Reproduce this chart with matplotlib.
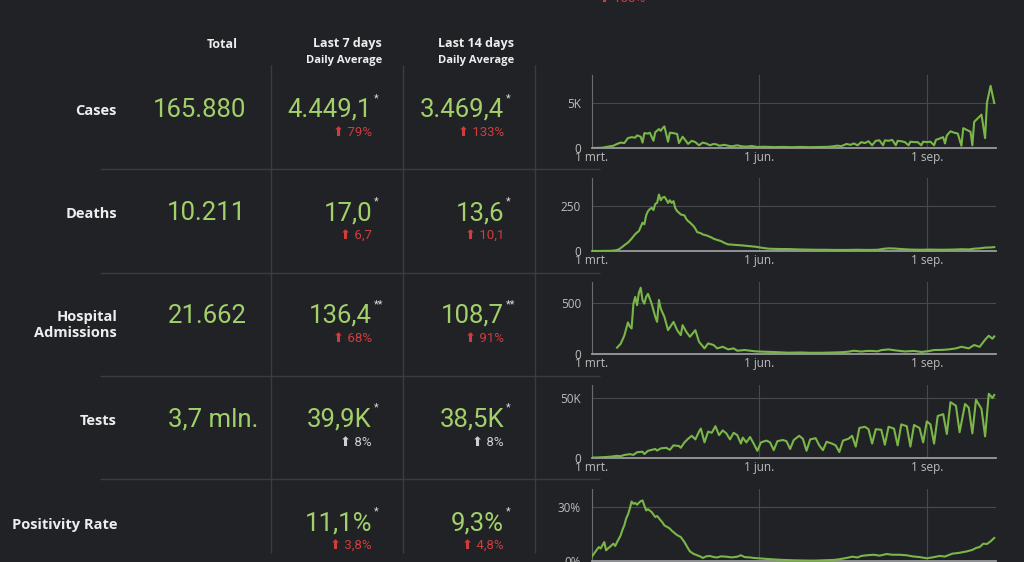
import numpy as np
import matplotlib
matplotlib.use("Agg")
from matplotlib import pyplot as plt

matplotlib.rcParams.update({'font.family': ['Roboto', 'DejaVu Sans']})

BG = '#212226'
GREEN = '#a2d06a'
LINE = '#7ab648'
RED = '#cf3d3d'
GREY = '#d0d0d0'
RULE = '#3b3c40'

# ---- table data
row_labels = ["Cases", "Deaths", "Hospital\nAdmissions", "Tests", "Positivity Rate"]
totals = ["165.880", "10.211", "21.662", "3,7 mln.", ""]
avg7 = ["4.449,1", "17,0", "136,4", "39,9K", "11,1%"]
avg14 = ["3.469,4", "13,6", "108,7", "38,5K", "9,3%"]
stars = ["*", "*", "**", "*", "*"]
chg7 = ["79%", "6,7", "68%", "8%", "3,8%"]
chg14 = ["133%", "10,1", "91%", "8%", "4,8%"]
chg_bad = [True, True, True, False, True]

# ---- sparkline data (days since 1 March)
cases_days = [0, 3, 6, 9, 12, 14, 16, 18, 20, 22, 24, 25, 27, 28, 29, 31, 32, 34, 35, 37, 38, 39, 40, 42, 43, 45, 47, 48,
              50, 51, 53, 55, 57, 59, 61, 63, 65, 67, 69, 70, 73, 75, 77, 80, 82, 85, 88, 91, 95, 100, 105, 110, 115, 120,
              125, 130, 133, 135, 137, 140, 142, 144, 146, 148, 150, 152, 154, 156, 158, 160, 161, 163, 165, 167, 168,
              170, 172, 174, 175, 177, 179, 181, 182, 184, 186, 188, 189, 191, 193, 194, 195, 197, 199, 201, 203, 204,
              206, 208, 209, 210, 212, 214, 216, 217, 219, 221]
cases_vals = [0, 10, 30, 150, 250, 450, 600, 550, 1100, 1200, 1150, 1400, 1250, 600, 1650, 1600, 1700, 800, 1750, 2100,
              1900, 2200, 2400, 700, 1700, 1650, 1550, 550, 1250, 1000, 450, 800, 650, 300, 600, 500, 300, 450, 380, 250,
              350, 250, 180, 300, 200, 150, 220, 110, 140, 100, 120, 90, 120, 90, 110, 130, 200, 260, 200, 450, 350, 500,
              300, 650, 550, 750, 300, 800, 850, 300, 850, 800, 900, 300, 800, 750, 650, 300, 700, 650, 650, 300, 700,
              650, 700, 300, 900, 1050, 1200, 500, 1400, 1850, 1700, 1600, 250, 2200, 2000, 1800, 300, 2900, 3300, 3700,
              1100, 5000, 6900, 5000]

deaths_days = [0, 5, 10, 13, 15, 17, 19, 20, 22, 24, 26, 28, 29, 30, 31, 32, 33, 34, 35, 36, 37, 38, 39, 40, 41, 42, 43,
               44, 45, 46, 47, 48, 49, 51, 52, 53, 54, 56, 57, 58, 60, 61, 63, 64, 66, 67, 69, 71, 73, 75, 77, 79, 82,
               84, 86, 88, 90, 93, 95, 97, 100, 104, 108, 113, 118, 123, 128, 134, 140, 146, 152, 157, 160, 163, 166,
               170, 175, 181, 186, 192, 198, 203, 207, 210, 213, 216, 219, 221]
deaths_vals = [0, 0, 1, 3, 9, 24, 40, 47, 69, 95, 112, 159, 150, 200, 224, 235, 243, 230, 265, 270, 317, 285, 300, 304,
               290, 270, 285, 270, 280, 240, 224, 215, 205, 200, 180, 168, 160, 140, 125, 106, 100, 93, 88, 84, 75, 69,
               62, 56, 45, 37, 36, 34, 32, 30, 28, 26, 24, 19, 16, 13, 12, 11, 11, 9, 8, 7, 7, 6, 6, 7, 6, 7, 12, 15,
               14, 11, 8, 7, 8, 7, 8, 10, 9, 13, 15, 19, 20, 22]

hosp_days = [14, 16, 18, 20, 21, 22, 23, 24, 25, 26, 27, 28, 29, 30, 31, 33, 35, 36, 37, 38, 40, 42, 45, 47, 49, 50, 52,
             54, 57, 59, 62, 64, 67, 69, 72, 75, 78, 80, 84, 90, 95, 99, 104, 108, 115, 120, 126, 133, 138, 141, 144,
             148, 151, 154, 157, 159, 163, 167, 172, 177, 181, 185, 188, 192, 196, 200, 203, 207, 210, 213, 216, 218,
             220, 221]
hosp_vals = [62, 100, 180, 310, 270, 250, 494, 560, 478, 600, 650, 526, 494, 560, 590, 494, 364, 315, 530, 445, 364, 234,
             315, 234, 185, 283, 218, 169, 234, 120, 55, 104, 88, 55, 71, 45, 55, 32, 39, 26, 22, 20, 16, 13, 15, 12,
             12, 15, 18, 23, 32, 24, 30, 30, 26, 38, 45, 35, 25, 30, 20, 28, 39, 40, 45, 55, 71, 55, 88, 70, 140, 179,
             150, 172]

tests_days = [0, 4, 8, 11, 14, 16, 18, 21, 23, 25, 28, 29, 31, 35, 36, 38, 41, 43, 45, 48, 49, 51, 53, 55, 57, 59, 60, 62,
              64, 66, 68, 70, 72, 74, 76, 78, 80, 82, 83, 85, 87, 89, 91, 93, 96, 98, 100, 102, 105, 107, 109, 111, 114,
              116, 118, 120, 123, 125, 127, 129, 132, 134, 136, 138, 141, 143, 145, 147, 150, 152, 154, 156, 159, 161,
              163, 166, 168, 170, 173, 175, 177, 180, 182, 184, 186, 188, 190, 193, 195, 197, 200, 202, 205, 207, 209,
              211, 214, 216, 218, 220, 221]
tests_vals = [300, 500, 800, 1200, 1800, 1500, 2500, 3200, 2600, 4800, 5200, 3300, 6000, 7500, 6200, 8000, 8500, 6800,
              10500, 10000, 8500, 13000, 16000, 18500, 15500, 22000, 24500, 13000, 22000, 21000, 26500, 19000, 23000,
              20500, 15500, 21000, 19000, 12000, 17000, 13000, 17500, 12000, 6000, 13000, 14500, 13000, 6500, 14000,
              15000, 14000, 7500, 15000, 18500, 16000, 6000, 15500, 16500, 10500, 6500, 13500, 12000, 10500, 5000,
              14500, 16000, 18500, 9500, 25000, 26000, 24000, 12000, 24000, 23500, 11000, 26000, 24500, 10500, 28000,
              26500, 9500, 27500, 25000, 13000, 30500, 28000, 12000, 35000, 36500, 20000, 46500, 43500, 21500, 45000,
              42000, 20500, 48500, 41000, 18000, 53500, 50000, 52500]

pos_days = [0, 2, 4, 5, 6, 7, 8, 9, 10, 12, 13, 14, 16, 17, 18, 19, 20, 21, 22, 23, 24, 25, 26, 27, 28, 29, 30, 31, 33,
            34, 35, 36, 38, 39, 40, 42, 43, 44, 46, 47, 49, 50, 51, 53, 54, 56, 58, 60, 61, 63, 65, 67, 69, 71, 74, 77,
            80, 82, 84, 87, 89, 93, 97, 100, 105, 111, 116, 122, 127, 133, 136, 140, 143, 146, 148, 151, 155, 158, 162,
            165, 169, 173, 176, 180, 184, 187, 191, 194, 198, 202, 206, 209, 211, 213, 215, 217, 219, 221]
pos_vals = [2.2, 5.0, 7.8, 7.0, 8.8, 10.6, 6.0, 7.0, 7.8, 9.7, 8.4, 10.5, 14.3, 17.5, 19.9, 23.7, 26.0, 29.2, 33.3, 32.0,
            32.5, 31.5, 32.6, 33.5, 33.9, 31.0, 28.3, 29.0, 27.4, 26.0, 24.6, 25.2, 22.7, 21.5, 19.9, 18.8, 18.1, 17.0,
            15.3, 14.5, 13.4, 12.0, 10.6, 7.0, 5.4, 4.0, 3.2, 2.4, 1.7, 2.6, 2.8, 2.2, 2.0, 2.6, 2.4, 2.0, 2.4, 3.2,
            2.2, 2.0, 1.7, 1.4, 1.1, 0.9, 0.6, 0.4, 0.3, 0.2, 0.4, 0.6, 1.0, 1.7, 2.4, 2.0, 2.8, 3.2, 3.5, 3.0, 3.9,
            3.5, 3.5, 3.2, 2.6, 2.2, 1.5, 2.0, 2.8, 2.5, 4.1, 4.6, 5.4, 6.2, 7.3, 7.8, 9.7, 9.5, 11.0, 12.9]

month_ticks = [0, 92, 184]
month_labels = ["1 mrt.", "1 jun.", "1 sep."]

spark_series = [(cases_days, cases_vals), (deaths_days, deaths_vals), (hosp_days, hosp_vals),
                (tests_days, tests_vals), (pos_days, pos_vals)]
spark_ticks = [[0, 5000], [0, 250], [0, 500], [0, 50000], [0, 30]]
spark_ticklabels = [["0", "5K"], ["0", "250"], ["0", "500"], ["0", "50K"], ["0%", "30%"]]
spark_ymax = [8100, 410, 706, 60800, 40.3]

# ---- layout (pixels)
W, H = 1024, 562
row_y = [110, 213, 316, 419, 523]
label_y = [111, 214, 325, 421, 525]
total_right = [246, 246, 247, 258, 246]
spark_top = [75, 178, 282, 385, 489]
spark_base = [148, 251, 354, 458, 561]

fig = plt.figure(figsize=(W / 100, H / 100), dpi=100, facecolor=BG)
ax0 = fig.add_axes([0, 0, 1, 1])
ax0.set_facecolor(BG)
ax0.set_xlim(0, W)
ax0.set_ylim(H, 0)
ax0.axis('off')

# rules
ax0.hlines([169, 273, 376, 479], 100, 600, color=RULE, lw=1)
ax0.vlines([271, 403, 535], 65, 553, color=RULE, lw=1)

# headers
hdr = dict(color='#eeeeee', family='Open Sans', weight='bold', ha='right', va='center')
ax0.text(238, 44, "Total", fontsize=9, **hdr)
ax0.text(382, 44, "Last 7 days", fontsize=9, **hdr)
ax0.text(382, 60, "Daily Average", fontsize=8, **hdr)
ax0.text(514, 44, "Last 14 days", fontsize=9, **hdr)
ax0.text(514, 60, "Daily Average", fontsize=8, **hdr)

# leftover change text from the row above (cut by the top edge)
ax0.text(645, -1, "⬆ 133%", color=RED, fontsize=9.5, ha='right', va='center')

for i, lab in enumerate(row_labels):
    y = row_y[i]
    ax0.text(117, label_y[i], lab, color='#eeeeee', family='Open Sans', weight='bold', fontsize=10.5,
             ha='right', va='center', multialignment='right', linespacing=1.2)
    ax0.text(total_right[i], y, totals[i], color=GREEN, fontsize=18.5, ha='right', va='center')
    ccol = RED if chg_bad[i] else GREY
    for xr, val, chg in [(372, avg7[i], chg7[i]), (504, avg14[i], chg14[i])]:
        ax0.text(xr, y, val, color=GREEN, fontsize=18.5, ha='right', va='center')
        ax0.text(xr + 2, y - 12, stars[i], color='#dddddd', fontsize=8, ha='left', va='center')
        ax0.text(xr, y + 23, "⬆ " + chg, color=ccol, fontsize=9.5, ha='right', va='center')

# sparklines
left = 591.5
right = 995.5
for i, (days, vals) in enumerate(spark_series):
    ax = fig.add_axes([left / W, 1 - spark_base[i] / H, (right - left) / W, (spark_base[i] - spark_top[i]) / H])
    ax.set_facecolor('none')
    ax.plot(days, vals, color=LINE, lw=1.5, zorder=3)
    ax.set_xlim(0, 221.7)
    ax.set_ylim(0, spark_ymax[i])
    ax.set_yticks(spark_ticks[i], spark_ticklabels[i])
    ax.set_xticks(month_ticks, month_labels)
    ax.grid(True, color='#48494d', lw=0.8)
    ax.tick_params(length=0, colors='#bdbdbd', labelsize=8.5)
    ax.tick_params(axis='y', pad=7.5)
    ax.tick_params(axis='x', pad=2)
    for t in ax.get_xticklabels() + ax.get_yticklabels():
        t.set_family('Open Sans')
    for s in ['top', 'right']:
        ax.spines[s].set_visible(False)
    ax.spines['left'].set_color('#6a6b6e')
    ax.spines['bottom'].set_color('#9a9b9e')
    ax.spines['bottom'].set_linewidth(1.3)

fig.savefig("out.png", dpi=100, facecolor=BG)
